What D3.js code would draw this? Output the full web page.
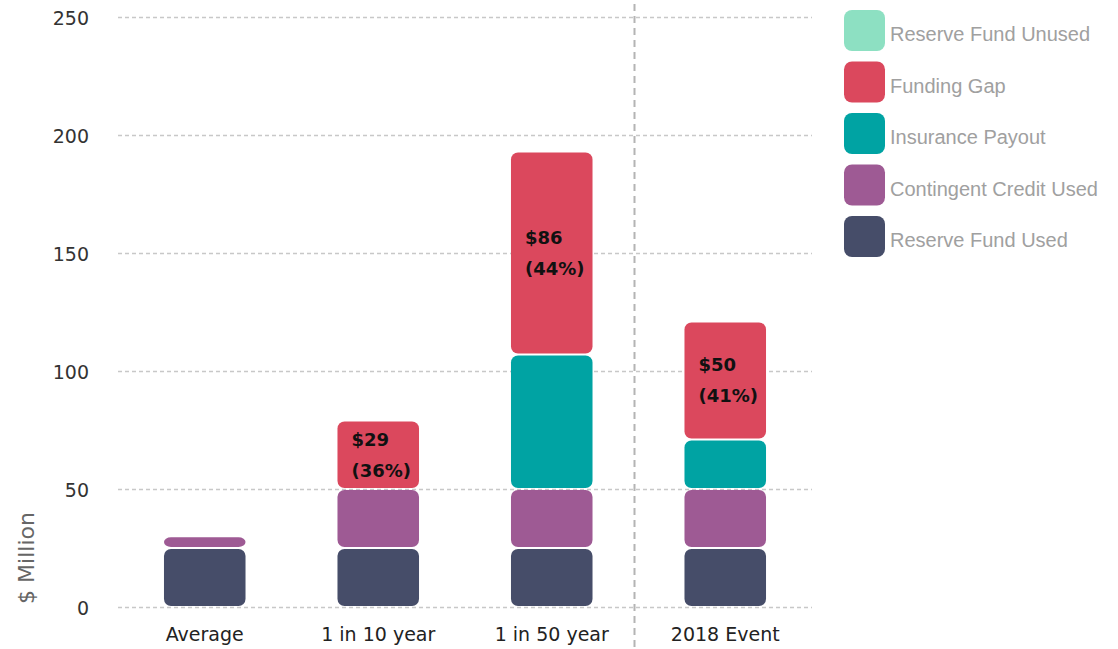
<!DOCTYPE html>
<html>
<head>
<meta charset="utf-8">
<script src="https://cdn.jsdelivr.net/npm/d3@7"></script>
<style>
	body { margin: 0; background: #fff; }
	svg { display: block; }
</style>
</head>
<body>
<div id="chart"></div>
<script>
// chart data
const categories = ['Average', '1 in 10 year', '1 in 50 year', '2018 Event'];
const seriesNames = ['Reserve Fund Used', 'Contingent Credit Used', 'Insurance Payout', 'Funding Gap', 'Reserve Fund Unused'];
const reserveUsed = [25, 25, 25, 25];
const contingentUsed = [5, 25, 25, 25];
const insurancePayout = [0, 0, 57, 21];
const fundingGap = [0, 29, 86, 50];
const reserveUnused = [0, 0, 0, 0];
const gapLabels = ['', '$29', '$86', '$50'];
const gapShares = ['', '(36%)', '(44%)', '(41%)'];
const yTicks = [0, 50, 100, 150, 200, 250];
const legendOrder = ['Reserve Fund Unused', 'Funding Gap', 'Insurance Payout', 'Contingent Credit Used', 'Reserve Fund Used'];

const colors = {
	'Reserve Fund Unused': '#8de0c2',
	'Funding Gap': '#db485d',
	'Insurance Payout': '#00a3a3',
	'Contingent Credit Used': '#9e5a94',
	'Reserve Fund Used': '#464d69'
};

const width = 1118;
const height = 649;
const margin = { top: 17, right: 306, bottom: 42, left: 118 };

const svg = d3.select('#chart').append('svg').attr('width', width).attr('height', height);

const table = categories.map((c, i) => ({
	category: c,
	'Reserve Fund Used': reserveUsed[i],
	'Contingent Credit Used': contingentUsed[i],
	'Insurance Payout': insurancePayout[i],
	'Funding Gap': fundingGap[i],
	'Reserve Fund Unused': reserveUnused[i]
}));

const stacked = d3.stack().keys(seriesNames)(table);

const xScale = d3.scaleBand().domain(categories).range([ margin.left, width - margin.right ]).paddingInner(0.53).paddingOuter(0.265);
const yScale = d3.scaleLinear().domain([ 0, 250 ]).range([ height - margin.bottom, margin.top ]);

// gridlines
svg
	.append('g')
	.selectAll('line')
	.data(yTicks)
	.join('line')
	.attr('x1', margin.left)
	.attr('x2', width - margin.right)
	.attr('y1', (d) => yScale(d) + 0.5)
	.attr('y2', (d) => yScale(d) + 0.5)
	.style('stroke', '#c8c8c8')
	.style('stroke-width', 1.5)
	.style('stroke-dasharray', '4, 3');

// y axis labels
const yAxis = svg
	.append('g')
	.attr('transform', `translate(${margin.left - 29}, 1)`)
	.call(d3.axisLeft(yScale).tickValues(yTicks).tickSize(0).tickPadding(0));
yAxis.select('.domain').remove();
yAxis
	.selectAll('text')
	.style('font-family', 'DejaVu Sans, sans-serif')
	.style('font-size', '19px')
	.style('fill', '#333');

svg
	.append('text')
	.attr('transform', `translate(34, 558) rotate(-90)`)
	.attr('text-anchor', 'middle')
	.style('font-family', 'DejaVu Sans, sans-serif')
	.style('font-size', '22px')
	.style('fill', '#666')
	.text('$ Million');

// x axis labels
const xAxis = svg
	.append('g')
	.attr('transform', `translate(0, ${height - margin.bottom})`)
	.call(d3.axisBottom(xScale).tickSize(0).tickPadding(21));
xAxis.select('.domain').remove();
xAxis
	.selectAll('text')
	.style('font-family', 'DejaVu Sans, sans-serif')
	.style('font-size', '19px')
	.style('fill', '#222');

// divider before the 2018 event
const dividerX = xScale('2018 Event') - xScale.step() * xScale.paddingInner() / 2 - 4;
svg
	.append('line')
	.attr('x1', dividerX)
	.attr('x2', dividerX)
	.attr('y1', 4)
	.attr('y2', height)
	.style('stroke', '#b4b4b4')
	.style('stroke-width', 2)
	.style('stroke-dasharray', '7, 5');

// stacked bars
const layers = svg
	.append('g')
	.selectAll('g')
	.data(stacked)
	.join('g')
	.attr('fill', (d) => colors[d.key]);

layers
	.selectAll('rect')
	.data((d) => d.filter((p) => p[1] - p[0] > 0))
	.join('rect')
	.attr('x', (d) => xScale(d.data.category))
	.attr('width', xScale.bandwidth())
	.attr('y', (d) => yScale(d[1]) + 1)
	.attr('height', (d) => Math.max(0, yScale(d[0]) - yScale(d[1]) - 2))
	.attr('rx', 7)
	.attr('ry', 7);

// funding gap labels
const gapLayer = stacked.find((s) => s.key === 'Funding Gap');
const labelG = svg
	.append('g')
	.selectAll('g')
	.data(gapLayer.filter((p) => p[1] - p[0] > 0))
	.join('g')
	.attr('transform', (d) => `translate(${xScale(d.data.category) + 14}, ${yScale((d[0] + d[1]) / 2)})`)
	.style('font-family', 'DejaVu Sans, sans-serif')
	.style('font-size', '18px')
	.style('font-weight', 'bold')
	.style('fill', '#111');

labelG
	.append('text')
	.attr('y', -9)
	.text((d) => gapLabels[categories.indexOf(d.data.category)]);

labelG
	.append('text')
	.attr('y', 22)
	.text((d) => gapShares[categories.indexOf(d.data.category)]);

// legend
const legend = svg
	.append('g')
	.selectAll('g')
	.data(legendOrder)
	.join('g')
	.attr('transform', (d, i) => `translate(844, ${10 + i * 51.5})`);

legend
	.append('rect')
	.attr('width', 41)
	.attr('height', 41)
	.attr('rx', 8)
	.attr('ry', 8)
	.attr('fill', (d) => colors[d]);

legend
	.append('text')
	.attr('x', 46)
	.attr('y', 24)
	.attr('dy', '0.35em')
	.style('font-family', 'Liberation Sans, Arial, sans-serif')
	.style('font-size', '20px')
	.style('fill', '#a0a0a0')
	.text((d) => d);
</script>
</body>
</html>
